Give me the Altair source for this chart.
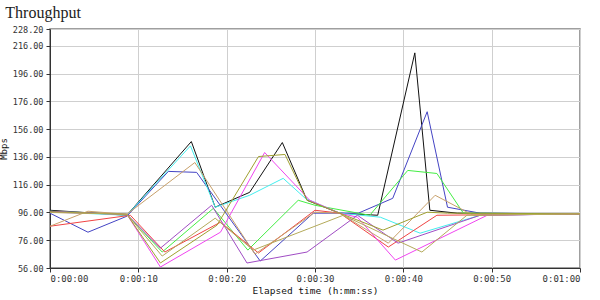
import altair as alt
import pandas as pd

# series: elapsed seconds and throughput (Mbps)
black_t = [0, 8.7, 16.0, 18.7, 22.6, 26.3, 29.1, 32.8, 37.1, 41.3, 43.0, 46.1, 60]
black_v = [97.6, 94.0, 147.1, 99.8, 110.5, 146.4, 104.8, 95.5, 94.0, 211.0, 97.6, 95.5, 95.0]

navy_t = [0, 4.3, 8.7, 13.4, 16.6, 23.8, 29.8, 34.9, 38.8, 42.7, 45.0, 48.7, 60]
navy_v = [95.5, 81.8, 93.3, 125.6, 124.9, 61.0, 95.5, 95.5, 106.2, 168.6, 99.8, 95.5, 95.0]

green_t = [0, 8.7, 12.7, 18.5, 22.4, 28.1, 30.0, 36.2, 40.5, 43.8, 46.8, 60]
green_v = [96.9, 94.7, 67.5, 99.0, 68.9, 104.8, 101.2, 94.0, 126.3, 124.1, 95.5, 95.0]

cyan_t = [0, 8.7, 15.9, 18.7, 22.6, 26.4, 28.9, 32.8, 37.4, 41.9, 46.8, 48.7, 60]
cyan_v = [96.5, 94.0, 144.0, 99.8, 108.4, 120.6, 106.2, 95.5, 92.6, 81.1, 90.4, 94.0, 95.0]

red_t = [0, 9.1, 13.0, 19.3, 23.6, 30.0, 32.8, 38.3, 43.8, 60]
red_v = [86.1, 94.0, 67.5, 89.0, 66.8, 97.6, 95.5, 71.1, 94.0, 95.0]

magenta_t = [0, 8.7, 12.5, 19.3, 24.3, 29.4, 32.8, 34.8, 39.1, 49.5, 60]
magenta_v = [96.2, 94.7, 56.7, 81.8, 139.2, 104.8, 95.5, 92.6, 61.7, 94.0, 95.0]

purple_t = [0, 8.7, 12.5, 18.3, 22.3, 29.1, 34.8, 39.4, 48.7, 60]
purple_v = [96.9, 94.7, 70.3, 101.2, 59.6, 67.5, 94.0, 73.9, 94.0, 95.0]

tan_t = [0, 4.3, 8.7, 16.4, 23.2, 30.0, 32.8, 38.3, 43.6, 47.9, 60]
tan_v = [86.1, 96.9, 94.7, 132.0, 66.0, 96.2, 95.5, 73.9, 108.4, 94.0, 95.0]

olive_t = [0, 8.7, 12.5, 18.9, 23.6, 26.6, 29.1, 30.0, 32.8, 37.7, 42.7, 45.0, 60]
olive_v = [96.5, 94.7, 59.6, 86.8, 136.3, 137.8, 104.8, 102.6, 95.5, 83.3, 96.2, 95.5, 95.0]

khaki_t = [0, 8.7, 12.7, 18.7, 23.0, 33.2, 42.1, 47.2, 60]
khaki_v = [96.0, 94.7, 64.6, 91.9, 68.9, 94.0, 67.5, 94.0, 95.0]

series_names = ["black", "navy", "green", "cyan", "red", "magenta", "purple", "tan", "olive", "khaki"]
series_colors = ["#111111", "#4444c4", "#44ee44", "#44eeee", "#f04444", "#f044f0",
                 "#a04cc4", "#c8a06a", "#a0a030", "#b4aa5a"]
series_data = [(black_t, black_v), (navy_t, navy_v), (green_t, green_v), (cyan_t, cyan_v),
               (red_t, red_v), (magenta_t, magenta_v), (purple_t, purple_v),
               (tan_t, tan_v), (olive_t, olive_v), (khaki_t, khaki_v)]

y_ticks = [56, 76, 96, 116, 136, 156, 176, 196, 216, 228.2]
x_ticks = [0, 10, 20, 30, 40, 50, 60]

rows = []
for name, (ts, vs) in zip(series_names, series_data):
    for i, (t, v) in enumerate(zip(ts, vs)):
        rows.append({"series": name, "t": t, "v": v, "i": i})
df = pd.DataFrame(rows)

mono = "DejaVu Sans Mono"

chart = alt.Chart(df).mark_line(strokeWidth=1, clip=True).encode(
    x=alt.X("t:Q",
            scale=alt.Scale(domain=[0, 60], nice=False, zero=False),
            axis=alt.Axis(values=x_ticks, title="Elapsed time (h:mm:ss)",
                          labelExpr="'0:' + format(floor(datum.value/60), '02d') + ':' + format(datum.value % 60, '02d')",
                          labelFont=mono, labelFontSize=9, labelColor="#333333",
                          titleFont=mono, titleFontSize=9.5, titleFontWeight="normal",
                          titleColor="#111111", titlePadding=2,
                          tickSize=4, tickColor="#333333", labelPadding=2,
                          domainColor="#333333", gridColor="#cfcfcf")),
    y=alt.Y("v:Q",
            scale=alt.Scale(domain=[56, 228.2], nice=False, zero=False),
            axis=alt.Axis(values=y_ticks, title="Mbps",
                          labelExpr="format(datum.value, '.2f')",
                          labelFont=mono, labelFontSize=8.5, labelColor="#333333",
                          titleFont=mono, titleFontSize=9, titleFontWeight="normal",
                          titleColor="#111111", titlePadding=4,
                          tickSize=4, tickColor="#333333", labelPadding=3,
                          domainColor="#333333", gridColor="#cfcfcf")),
    color=alt.Color("series:N", scale=alt.Scale(domain=series_names, range=series_colors),
                    legend=None),
    order="i:Q",
).properties(
    width=530, height=239,
    autosize=alt.AutoSizeParams(type="none"),
    padding={"left": 50, "top": 29, "right": 20, "bottom": 32},
    title=alt.TitleParams("Throughput", anchor="start", dx=6, offset=4,
                          font="Liberation Serif", fontSize=16, fontWeight="normal",
                          color="#222222"),
    background="white",
).configure_view(stroke="#808080", strokeWidth=1.5)

chart.save("out.html", embed_options={"renderer": "svg", "actions": False})
